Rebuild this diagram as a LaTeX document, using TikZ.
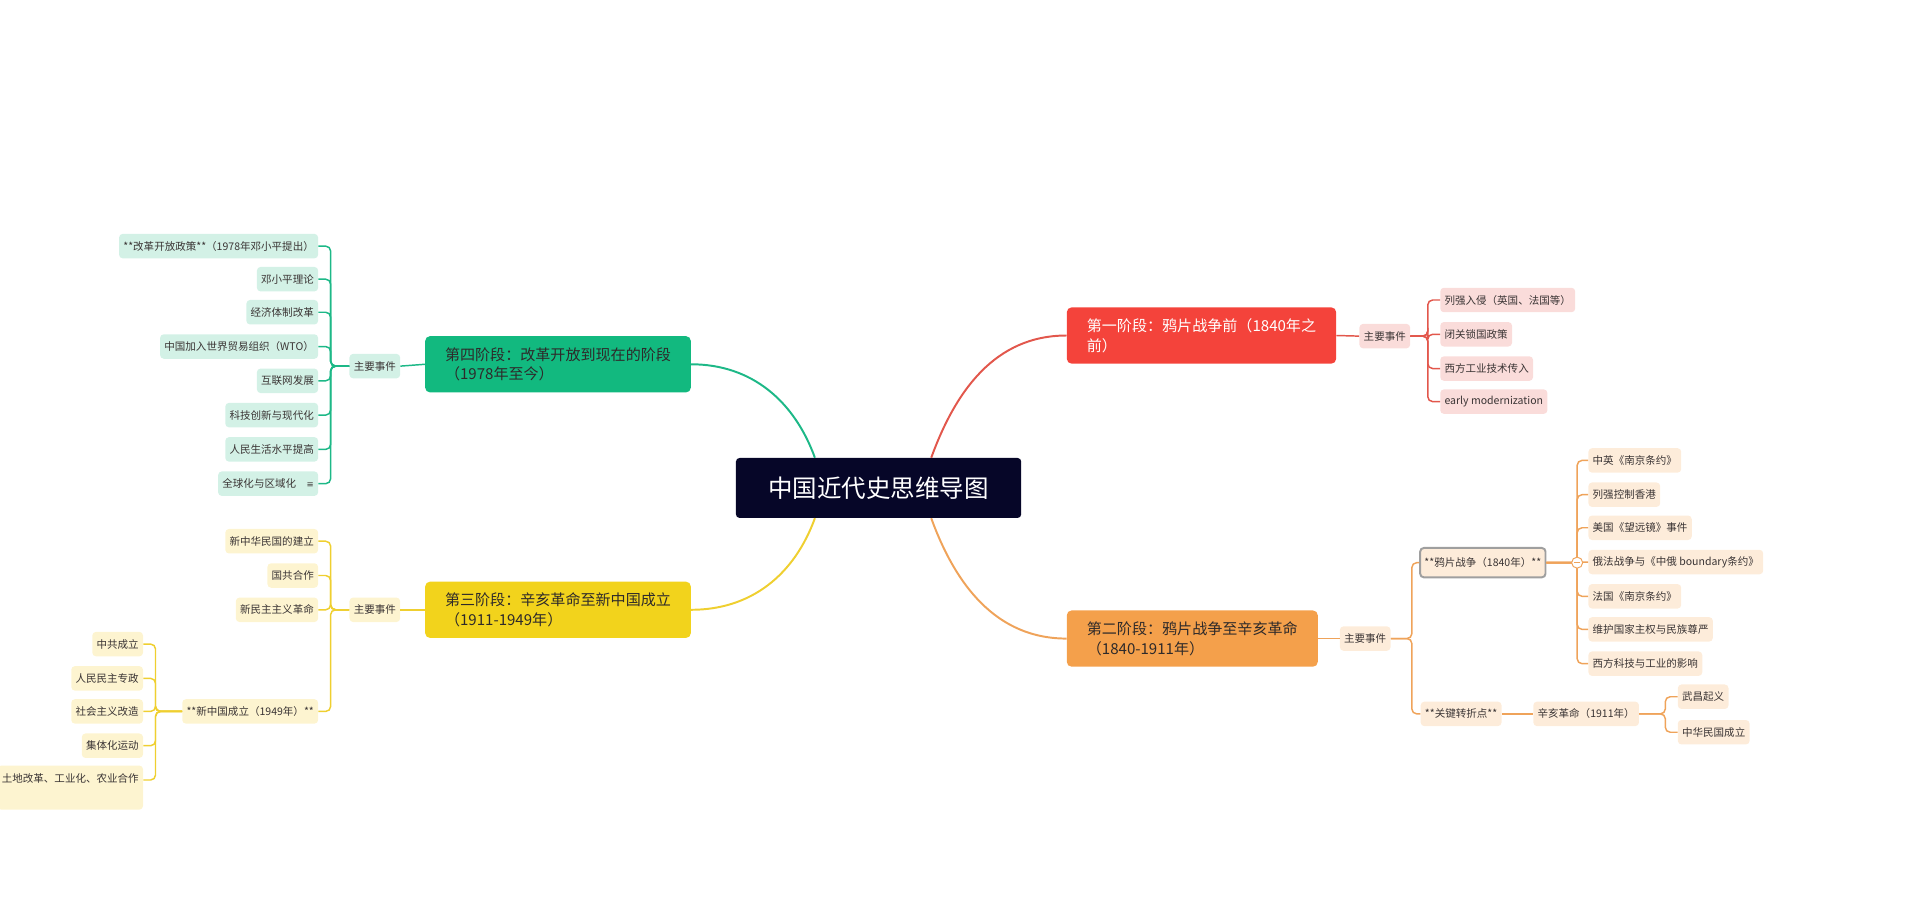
\documentclass[tikz,border=0pt]{standalone}
\usepackage{fontspec}
\setmainfont{Noto Sans CJK SC}
\newfontfamily\dvs{DejaVu Sans}
\usetikzlibrary{calc}
\definecolor{navy}{HTML}{060628}
\definecolor{cR}{HTML}{F4433B}\definecolor{lR}{HTML}{E2574C}\definecolor{fR}{HTML}{FADCDA}
\definecolor{cO}{HTML}{F4A04B}\definecolor{lO}{HTML}{EFA35A}\definecolor{fO}{HTML}{FDECDA}
\definecolor{cG}{HTML}{12B97F}\definecolor{lG}{HTML}{1DB887}\definecolor{fG}{HTML}{D3F1E6}
\definecolor{cY}{HTML}{F2D31C}\definecolor{lY}{HTML}{EFCF30}\definecolor{fY}{HTML}{FDF4D0}
\definecolor{tx}{HTML}{3A3434}
\tikzset{
  leaf/.style={rounded corners=3pt, inner sep=3.5pt, text=tx, font=\fontsize{8.6}{10}\selectfont, minimum height=20pt},
  stage/.style={rounded corners=4pt, inner sep=7pt, align=left, font=\fontsize{12.3}{16}\selectfont, anchor=west, minimum height=46pt},
  br/.style={rounded corners=4pt, line width=1.2pt},
  con/.style={line width=1.6pt},
}
\begin{document}
\begin{tikzpicture}[x=1pt,y=-1pt]
\useasboundingbox (0,0) rectangle (1568,751);
% center
\node[fill=navy, text=white, rounded corners=3pt, minimum width=233pt, minimum height=49pt, font=\fontsize{20}{24}\selectfont] (c) at (717.5,398.5) {中国近代史思维导图};
% stages
\node[stage, fill=cR, text=white, minimum width=220pt] (s1) at (871,274) {第一阶段：鸦片战争前（1840年之\\前）};
\node[stage, fill=cO, text=tx!80!black, minimum width=205pt] (s2) at (871,521.5) {第二阶段：鸦片战争至辛亥革命\\（1840-1911年）};
\node[stage, fill=cG, text=tx!80!black, minimum width=217pt] (s4) at (347,297.5) {第四阶段：改革开放到现在的阶段\\（1978年至今）};
\node[stage, fill=cY, text=tx!80!black, minimum width=217pt] (s3) at (347,498) {第三阶段：辛亥革命至新中国成立\\（1911-1949年）};
\draw[con, lR] ($(c.north)+(43,0)$) to[out=70,in=180] (s1.west);
\draw[con, lO] ($(c.south)+(43,0)$) to[out=-70,in=180] (s2.west);
\draw[con, lG] ($(c.north)+(-52,0)$) to[out=110,in=0] (s4.east);
\draw[con, lY] ($(c.south)+(-52,0)$) to[out=-110,in=0] (s3.east);

% ---------- stage 1
\node[leaf, fill=fR, anchor=west] (m1) at (1110,274.5) {主要事件};
\draw[br, lR] (s1.east) -- (m1.west);
\coordinate (b1) at (1166,0);
\foreach \n/\y/\t in {a/245/列强入侵（英国、法国等）, b/273/闭关锁国政策, c/301/西方工业技术传入, d/328/early modernization}{
  \node[leaf, fill=fR, anchor=west] (r\n) at (1176,\y) {\t};
  \draw[br, lR] (m1.east) -- (m1.east -| b1) |- (r\n.west);
}

% ---------- stage 2
\node[leaf, fill=fO, anchor=west] (m2) at (1094,521.5) {主要事件};
\draw[br, lO] (s2.east) -- (m2.west);
\coordinate (b2) at (1153,0);
\node[leaf, fill=fO, anchor=west, draw=gray!75, line width=1.6pt, minimum height=24pt] (op) at (1159,459.5) {**鸦片战争（1840年）**};
\node[leaf, fill=fO, anchor=west] (kz) at (1160,583) {**关键转折点**};
\draw[br, lO] (m2.east) -- (m2.east -| b2) |- (op.west);
\draw[br, lO] (m2.east) -- (m2.east -| b2) |- (kz.west);
\coordinate (b3) at (1288,0);
\foreach \n/\y/\t in {a/376/中英《南京条约》, b/404/列强控制香港, c/431/美国《望远镜》事件, d/459/俄法战争与《中俄 boundary条约》, e/487/法国《南京条约》, f/514/维护国家主权与民族尊严, g/542/西方科技与工业的影响}{
  \node[leaf, fill=fO, anchor=west] (o\n) at (1297,\y) {\t};
  \draw[br, lO] (op.east) -- (op.east -| b3) |- (o\n.west);
}
\node[circle, draw=lO, fill=white, inner sep=0pt, minimum size=9pt, line width=0.8pt] (tg) at (1288,459.5) {};
\draw[lO, line width=0.8pt] ($(tg.center)+(-2.5,0)$) -- ($(tg.center)+(2.5,0)$);
\node[leaf, fill=fO, anchor=west] (xh) at (1252,583) {辛亥革命（1911年）};
\draw[br, lO] (kz.east) -- (xh.west);
\coordinate (b4) at (1360,0);
\foreach \n/\y/\t in {a/569/武昌起义, b/598/中华民国成立}{
  \node[leaf, fill=fO, anchor=west] (x\n) at (1370,\y) {\t};
  \draw[br, lO] (xh.east) -- (xh.east -| b4) |- (x\n.west);
}

% ---------- stage 4
\node[leaf, fill=fG, anchor=east] (m4) at (327,299) {主要事件};
\draw[br, lG] (s4.west) -- (m4.east);
\coordinate (b5) at (270,0);
\foreach \n/\y/\t in {a/201/**改革开放政策**（1978年邓小平提出）, b/228/邓小平理论, c/255/经济体制改革, d/283/中国加入世界贸易组织（WTO）, e/311/互联网发展, f/339/科技创新与现代化, g/367/人民生活水平提高, h/395/全球化与区域化\quad{\dvs\fontsize{7}{8}\selectfont ≡}}{
  \node[leaf, fill=fG, anchor=east] (g\n) at (260,\y) {\t};
  \draw[br, lG] (m4.west) -- (m4.west -| b5) |- (g\n.east);
}

% ---------- stage 3
\node[leaf, fill=fY, anchor=east] (m3) at (327,498) {主要事件};
\draw[br, lY] (s3.west) -- (m3.east);
\foreach \n/\y/\t in {a/442/新中华民国的建立, b/470/国共合作, c/498/新民主主义革命, d/581/**新中国成立（1949年）**}{
  \node[leaf, fill=fY, anchor=east] (y\n) at (260,\y) {\t};
  \draw[br, lY] (m3.west) -- (m3.west -| b5) |- (y\n.east);
}
\coordinate (b6) at (127,0);
\foreach \n/\y/\t in {a/526/中共成立, b/554/人民民主专政, c/581/社会主义改造, d/609/集体化运动}{
  \node[leaf, fill=fY, anchor=east] (z\n) at (117,\y) {\t};
  \draw[br, lY] (yd.west) -- (yd.west -| b6) |- (z\n.east);
}
\node[leaf, fill=fY, anchor=north east, minimum height=36pt, text depth=16pt] (ze) at (117,625) {土地改革、工业化、农业合作};
\draw[br, lY] (yd.west) -- (yd.west -| b6) |- ($(ze.north east)+(0,12)$);
\end{tikzpicture}
\end{document}
